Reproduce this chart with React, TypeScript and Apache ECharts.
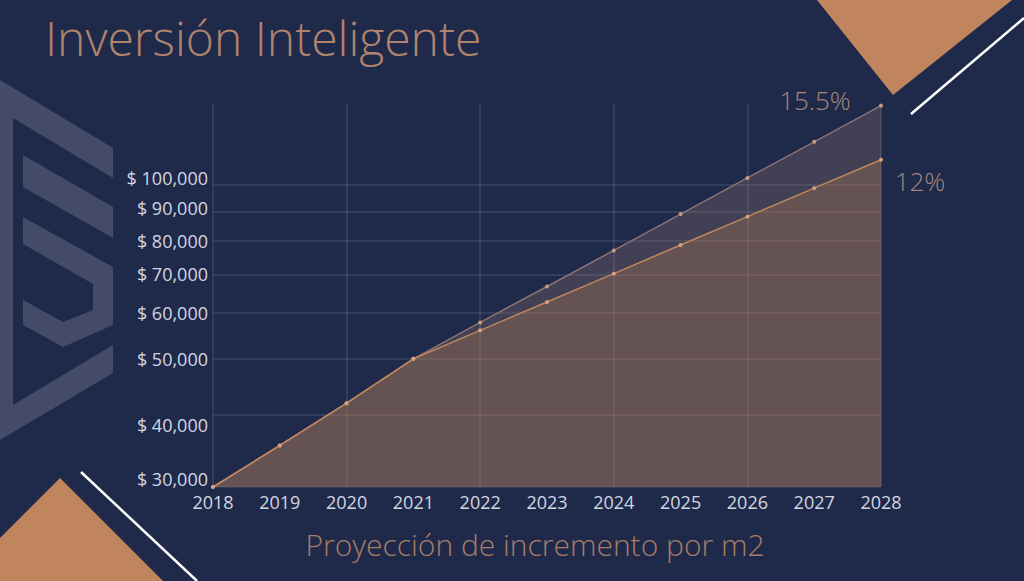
import { useEffect, useRef } from 'react'
import * as echarts from 'echarts'

// años de la proyección
const years = ['2018', '2019', '2020', '2021', '2022', '2023', '2024', '2025', '2026', '2027', '2028']

// valor por m2 con crecimiento anual de 12% y 15.5%
const growth12 = [30000, 35400, 41900, 50000, 56000, 62700, 70200, 78700, 88100, 98700, 110500]
const growth155 = [30000, 35400, 41900, 50000, 57800, 66700, 77000, 89000, 102800, 118700, 137100]

// etiquetas del eje y
const yTicks = [30000, 40000, 50000, 60000, 70000, 80000, 90000, 100000]

const FONT = '"Open Sans", Lato, sans-serif'
const NAVY = '#1f2a4b'
const COPPER = '#c0875f'
const LOGO = '#434b69'
const LABEL = '#d3d6e0'

// en la lámina las etiquetas no quedan justo sobre su línea
const labelShift: Record<number, number> = { 30000: -8, 40000: 10, 90000: -3, 100000: -7 }

const labelRich: Record<string, object> = { n: { color: LABEL, fontSize: 18, fontFamily: FONT } }
Object.values(labelShift).forEach(s => {
  const key = s < 0 ? 'up' + -s : 'dn' + s
  labelRich[key] = {
    color: LABEL,
    fontSize: 18,
    fontFamily: FONT,
    padding: s < 0 ? [0, 0, -2 * s, 0] : [2 * s, 0, 0, 0]
  }
})

export default function App() {
  const chartRef = useRef<HTMLDivElement>(null)

  useEffect(() => {
    document.body.style.margin = '0'
    if (!chartRef.current) return

    const chart = echarts.init(chartRef.current, null, { renderer: 'svg' })

    const option = {
      animation: false,
      backgroundColor: NAVY,
      textStyle: { fontFamily: FONT },
      title: {
        text: 'Inversión Inteligente',
        left: 40,
        top: 8,
        textStyle: {
          fontFamily: FONT,
          fontSize: 48,
          fontWeight: 300,
          color: '#b0836d'
        }
      },
      grid: {
        left: 213,
        right: 143,
        top: 104,
        bottom: 94
      },
      xAxis: {
        type: 'category',
        data: years,
        boundaryGap: false,
        axisLine: { show: false },
        axisTick: { show: false },
        axisLabel: {
          color: LABEL,
          fontSize: 18,
          fontFamily: FONT,
          margin: 6,
          interval: 0
        },
        splitLine: {
          show: true,
          interval: 1,
          lineStyle: { color: 'rgba(255,255,255,0.12)', width: 1.5 }
        },
        name: 'Proyección de incremento por m2',
        nameLocation: 'middle',
        nameGap: 42,
        nameTextStyle: {
          color: '#a87d68',
          fontSize: 30,
          fontWeight: 300,
          fontFamily: FONT,
          padding: [0, 24, 0, 0]
        }
      },
      yAxis: {
        type: 'log',
        logBase: 10,
        min: 30000,
        max: 138000,
        axisLine: { show: false },
        axisTick: { show: false, customValues: yTicks },
        axisLabel: {
          customValues: yTicks,
          color: LABEL,
          fontSize: 18,
          fontFamily: FONT,
          margin: 5,
          rich: labelRich,
          formatter: (v: number) => {
            const s = labelShift[Math.round(v)] || 0
            const key = s < 0 ? 'up' + -s : s > 0 ? 'dn' + s : 'n'
            return '{' + key + '|$ ' + Math.round(v).toLocaleString('en-US') + '}'
          }
        },
        splitLine: {
          show: true,
          lineStyle: { color: 'rgba(255,255,255,0.12)', width: 1.5 }
        }
      },
      series: [
        {
          name: '15.5%',
          type: 'line',
          data: growth155,
          symbol: 'circle',
          symbolSize: 4,
          itemStyle: { color: '#c99a7e' },
          lineStyle: { color: '#8c7373', width: 1.5 },
          areaStyle: { color: 'rgba(150,118,110,0.42)', origin: 'start' },
          z: 2
        },
        {
          name: '12%',
          type: 'line',
          data: growth12,
          symbol: 'circle',
          symbolSize: 4,
          itemStyle: { color: '#d6a280' },
          lineStyle: { color: COPPER, width: 1.5 },
          areaStyle: { color: 'rgba(190,125,75,0.42)', origin: 'start' },
          z: 3
        }
      ],
      graphic: [
        // logo de fondo
        {
          type: 'polygon',
          shape: { points: [[0, 80], [113, 148], [113, 178], [13, 118], [13, 405], [113, 345], [113, 373], [0, 440]] },
          style: { fill: LOGO }
        },
        {
          type: 'polygon',
          shape: { points: [[23, 155], [113, 207], [113, 238], [23, 187]] },
          style: { fill: LOGO }
        },
        {
          type: 'polygon',
          shape: {
            points: [[23, 217], [113, 267], [113, 325], [63, 347], [23, 325], [23, 300], [63, 322], [93, 310], [93, 284], [23, 244]]
          },
          style: { fill: LOGO }
        },
        // adornos
        {
          type: 'polygon',
          shape: { points: [[817, 0], [1012, 0], [893, 95]] },
          style: { fill: '#c0855d' }
        },
        {
          type: 'line',
          shape: { x1: 911, y1: 114, x2: 1024, y2: 18 },
          style: { stroke: '#ffffff', lineWidth: 2.5 }
        },
        {
          type: 'polygon',
          shape: { points: [[0, 538], [60, 478], [163, 581], [0, 581]] },
          style: { fill: '#c0855d' }
        },
        {
          type: 'line',
          shape: { x1: 81, y1: 472, x2: 197, y2: 581 },
          style: { stroke: '#ffffff', lineWidth: 2.5 }
        },
        // tasas
        {
          type: 'text',
          x: 815,
          y: 100,
          style: {
            text: '15.5%',
            fill: '#a5877b',
            fontSize: 26,
            fontWeight: 300,
            fontFamily: FONT,
            textAlign: 'center',
            textVerticalAlign: 'middle'
          }
        },
        {
          type: 'text',
          x: 920,
          y: 181,
          style: {
            text: '12%',
            fill: '#a5877b',
            fontSize: 26,
            fontWeight: 300,
            fontFamily: FONT,
            textAlign: 'center',
            textVerticalAlign: 'middle'
          }
        }
      ]
    }

    chart.setOption(option)

    return () => {
      chart.dispose()
    }
  }, [])

  return <div ref={chartRef} style={{ width: 1024, height: 581 }} />
}
